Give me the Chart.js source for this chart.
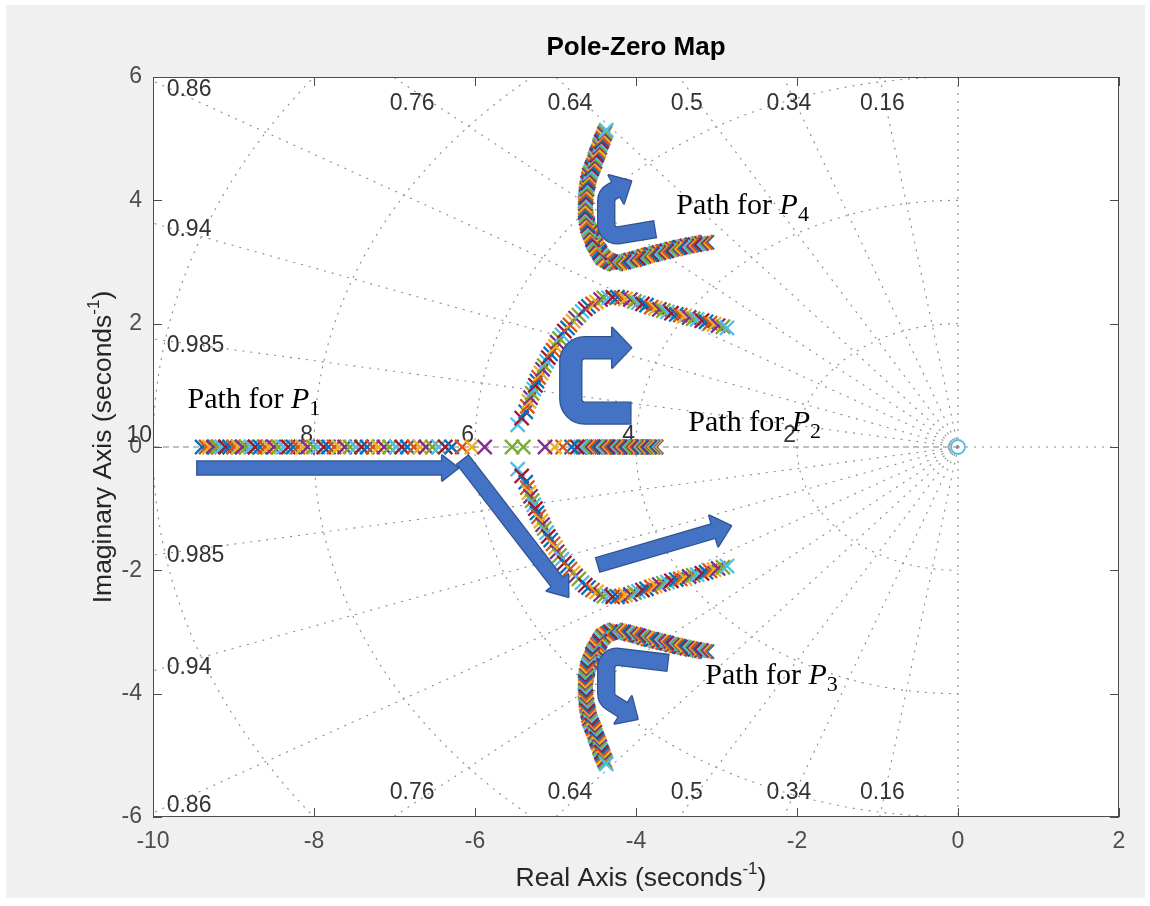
<!DOCTYPE html>
<html>
<head>
<meta charset="utf-8">
<title>Pole-Zero Map</title>
<script src="https://cdn.jsdelivr.net/npm/chart.js@4.4.1/dist/chart.umd.min.js"></script>
<style>
  html, body { margin: 0; padding: 0; background: #ffffff; }
  canvas { display: block; }
</style>
</head>
<body>
<canvas id="pz" width="1150" height="906"></canvas>
<script>
// MATLAB default colour order, one colour per gain step
const stepColors = ['#0072BD', '#D95319', '#EDB120', '#7E2F8E', '#77AC30', '#4DBEEE', '#A2142F'];

// P1 on the real axis (moves right until it meets P2)
const p1Real = [
  -9.39, -9.34, -9.30, -9.25, -9.20, -9.15, -9.10, -9.05, -9.00, -8.94,
  -8.89, -8.84, -8.78, -8.73, -8.67, -8.61, -8.56, -8.50, -8.44, -8.38,
  -8.32, -8.26, -8.20, -8.14, -8.08, -8.01, -7.95, -7.88, -7.82, -7.75,
  -7.69, -7.62, -7.55, -7.48, -7.41, -7.34, -7.27, -7.20, -7.13, -7.06,
  -6.98, -6.91, -6.84, -6.76, -6.68, -6.61, -6.53, -6.45, -6.37, -6.29,
  -6.16, -6.04, -5.88, -5.54
];

// P2 on the real axis (moves left until it meets P1)
const p2Real = [
  -3.75, -3.76, -3.77, -3.79, -3.80, -3.81, -3.83, -3.84, -3.86, -3.87,
  -3.89, -3.90, -3.92, -3.93, -3.95, -3.97, -3.98, -4.00, -4.02, -4.04,
  -4.06, -4.08, -4.09, -4.11, -4.13, -4.15, -4.18, -4.20, -4.22, -4.24,
  -4.26, -4.28, -4.31, -4.33, -4.35, -4.38, -4.40, -4.43, -4.45, -4.48,
  -4.50, -4.53, -4.55, -4.58, -4.61, -4.63, -4.66, -4.69, -4.73, -4.80,
  -4.91, -5.01, -5.13, -5.40
];

// after breakaway: upper branch taken by P2 (P1 follows the conjugate)
const breakRe = [
  -5.47, -5.42, -5.37, -5.35, -5.33, -5.31, -5.29, -5.27, -5.25, -5.23,
  -5.21, -5.18, -5.16, -5.14, -5.11, -5.09, -5.06, -5.03, -5.00, -4.98,
  -4.95, -4.92, -4.89, -4.85, -4.82, -4.78, -4.75, -4.71, -4.67, -4.63,
  -4.59, -4.54, -4.49, -4.44, -4.40, -4.34, -4.29, -4.23, -4.18, -4.13,
  -4.07, -4.02, -3.97, -3.92, -3.87, -3.81, -3.76, -3.71, -3.66, -3.61,
  -3.56, -3.50, -3.45, -3.40, -3.34, -3.29, -3.24, -3.18, -3.13, -3.08,
  -3.03, -2.98, -2.92, -2.87
];
const breakIm = [
  0.36, 0.47, 0.57, 0.66, 0.74, 0.80, 0.87, 0.94, 1.00, 1.07,
  1.13, 1.20, 1.26, 1.32, 1.39, 1.45, 1.51, 1.57, 1.63, 1.70,
  1.76, 1.82, 1.88, 1.93, 1.98, 2.04, 2.09, 2.14, 2.20, 2.24,
  2.28, 2.32, 2.35, 2.39, 2.42, 2.42, 2.43, 2.43, 2.42, 2.40,
  2.39, 2.36, 2.34, 2.32, 2.30, 2.27, 2.25, 2.23, 2.21, 2.19,
  2.17, 2.15, 2.14, 2.12, 2.10, 2.08, 2.07, 2.05, 2.03, 2.01,
  1.99, 1.97, 1.95, 1.93
];

// P4 (P3 is its conjugate)
const p4Re = [
  -3.12, -3.14, -3.17, -3.19, -3.22, -3.24, -3.27, -3.30, -3.32, -3.35,
  -3.37, -3.40, -3.42, -3.45, -3.47, -3.50, -3.52, -3.55, -3.57, -3.60,
  -3.62, -3.65, -3.67, -3.70, -3.72, -3.75, -3.77, -3.80, -3.82, -3.85,
  -3.87, -3.90, -3.92, -3.95, -3.97, -4.00, -4.02, -4.05, -4.07, -4.10,
  -4.12, -4.15, -4.17, -4.20, -4.22, -4.25, -4.27, -4.30, -4.32, -4.34,
  -4.36, -4.39, -4.41, -4.42, -4.44, -4.45, -4.46, -4.48, -4.49, -4.50,
  -4.52, -4.53, -4.54, -4.54, -4.55, -4.56, -4.57, -4.58, -4.59, -4.60,
  -4.60, -4.61, -4.61, -4.62, -4.62, -4.63, -4.63, -4.63, -4.63, -4.63,
  -4.63, -4.63, -4.63, -4.62, -4.62, -4.62, -4.62, -4.61, -4.61, -4.60,
  -4.60, -4.59, -4.59, -4.58, -4.58, -4.57, -4.56, -4.55, -4.54, -4.53,
  -4.52, -4.51, -4.51, -4.50, -4.49, -4.48, -4.47, -4.46, -4.45, -4.45,
  -4.44, -4.43, -4.42, -4.41, -4.40, -4.39, -4.38, -4.37
];
const p4Im = [
  3.32, 3.32, 3.31, 3.30, 3.30, 3.29, 3.28, 3.28, 3.27, 3.26,
  3.26, 3.25, 3.24, 3.24, 3.23, 3.22, 3.21, 3.21, 3.20, 3.19,
  3.18, 3.17, 3.17, 3.16, 3.15, 3.14, 3.13, 3.12, 3.12, 3.11,
  3.10, 3.09, 3.08, 3.07, 3.06, 3.05, 3.04, 3.04, 3.03, 3.02,
  3.01, 3.00, 3.00, 2.99, 2.98, 2.97, 2.97, 2.99, 3.00, 3.02,
  3.03, 3.05, 3.07, 3.09, 3.12, 3.15, 3.18, 3.21, 3.24, 3.27,
  3.30, 3.33, 3.36, 3.39, 3.42, 3.45, 3.48, 3.51, 3.54, 3.58,
  3.61, 3.64, 3.68, 3.71, 3.74, 3.78, 3.81, 3.84, 3.88, 3.91,
  3.95, 3.98, 4.01, 4.05, 4.08, 4.11, 4.15, 4.18, 4.21, 4.25,
  4.28, 4.31, 4.35, 4.38, 4.41, 4.44, 4.47, 4.51, 4.54, 4.57,
  4.60, 4.63, 4.67, 4.70, 4.73, 4.76, 4.79, 4.82, 4.86, 4.89,
  4.92, 4.95, 4.98, 5.01, 5.05, 5.08, 5.11, 5.14
];

// the zero at the origin
const zeroRe = [0];
const zeroIm = [0];

// s-plane grid values
const dampingRatios = [0.16, 0.34, 0.5, 0.64, 0.76, 0.86, 0.94, 0.985];
const naturalFreqs = [2, 4, 6, 8, 10];

// axis ticks
const xTicks = [-10, -8, -6, -4, -2, 0, 2];
const yTicks = [-6, -4, -2, 0, 2, 4, 6];

// ---------------------------------------------------------------------------
const SANS = '"Liberation Sans", Arial, Helvetica, sans-serif';
const SERIF = '"Liberation Serif", "Times New Roman", serif';

// where each damping-ratio label sits: [ratio, re, im, align]
const dampLabelSpots = [
  [0.86, -9.83, 5.79, 'left'], [0.94, -9.83, 3.53, 'left'], [0.985, -9.83, 1.65, 'left'],
  [0.985, -9.83, -1.77, 'left'], [0.94, -9.83, -3.58, 'left'], [0.86, -9.83, -5.82, 'left'],
  [0.76, -6.78, 5.56, 'center'], [0.64, -4.82, 5.56, 'center'], [0.5, -3.37, 5.56, 'center'],
  [0.34, -2.10, 5.56, 'center'], [0.16, -0.94, 5.56, 'center'],
  [0.76, -6.78, -5.61, 'center'], [0.64, -4.82, -5.61, 'center'], [0.5, -3.37, -5.61, 'center'],
  [0.34, -2.10, -5.61, 'center'], [0.16, -0.94, -5.61, 'center']
];

// block arrows: centre line in axis units, body width / head width / head length in px
const arrowShapes = [
  { pts: [[-9.45, -0.34], [-6.21, -0.34]], w: 13, hw: 25, hl: 16, r: 0 },
  { pts: [[-6.15, -0.21], [-4.84, -2.43]], w: 14, hw: 27, hl: 18, r: 0 },
  { pts: [[-4.47, -1.91], [-2.82, -1.28]], w: 14, hw: 32, hl: 18, r: 0 },
  { pts: [[-4.07, 0.55], [-4.81, 0.55], [-4.81, 1.61], [-4.06, 1.61]], w: 21, hw: 40, hl: 19, r: 14 },
  { pts: [[-3.77, 3.53], [-4.37, 3.40], [-4.37, 4.09], [-4.06, 4.31]], w: 16, hw: 32, hl: 17, r: 11 },
  { pts: [[-3.61, -3.50], [-4.37, -3.38], [-4.37, -4.09], [-3.98, -4.41]], w: 16, hw: 32, hl: 17, r: 11 }
];

// "Path for P_k" captions: [k, re, im of baseline start]
const pathCaptions = [
  ['1', -9.57, 0.63],
  ['2', -3.35, 0.26],
  ['4', -3.50, 3.78],
  ['3', -3.14, -3.84]
];

// ---------------------------------------------------------------------------
const pts = (re, im) => re.map((v, i) => ({ x: v, y: im[i] }));
const onAxis = re => re.map(v => ({ x: v, y: 0 }));
const conj = arr => arr.map(p => ({ x: p.x, y: -p.y }));

const upper = pts(breakRe, breakIm);
const p2Path = onAxis(p2Real).concat(upper);
const p1Path = onAxis(p1Real).concat(conj(upper));
const p4Path = pts(p4Re, p4Im);
const p3Path = conj(p4Path);

const poleStyle = {
  showLine: false,
  pointStyle: 'crossRot',
  pointRadius: 10,
  pointHoverRadius: 10,
  pointBorderWidth: 2.3,
  pointBorderColor: c => stepColors[c.dataIndex % stepColors.length],
  pointBackgroundColor: c => stepColors[c.dataIndex % stepColors.length]
};

const gridPlugin = {
  id: 'sgrid',
  beforeDraw(chart) {
    const { ctx, chartArea: a } = chart;
    ctx.save();
    ctx.fillStyle = '#ffffff';
    ctx.fillRect(0, 0, chart.width, chart.height);
    ctx.fillStyle = '#f0f0f0';
    ctx.fillRect(6, 5, 1139, 893);
    ctx.fillStyle = '#ffffff';
    ctx.fillRect(a.left, a.top, a.right - a.left, a.bottom - a.top);
    ctx.restore();
  },
  beforeDatasetsDraw(chart) {
    const { ctx, chartArea: a, scales: { x, y } } = chart;
    const X = v => x.getPixelForValue(v), Y = v => y.getPixelForValue(v);
    ctx.save();
    ctx.beginPath();
    ctx.rect(a.left, a.top, a.right - a.left, a.bottom - a.top);
    ctx.clip();
    ctx.strokeStyle = '#8c8c8c';
    ctx.lineWidth = 1.1;
    ctx.setLineDash([2, 6]);
    // constant damping rays
    dampingRatios.forEach(z => {
      const s = Math.sqrt(1 - z * z);
      [1, -1].forEach(sg => {
        ctx.beginPath();
        ctx.moveTo(X(0), Y(0));
        ctx.lineTo(X(-z * 30), Y(sg * s * 30));
        ctx.stroke();
      });
    });
    // constant natural frequency arcs (left half plane)
    naturalFreqs.forEach(w => {
      ctx.beginPath();
      for (let d = 90; d <= 270; d += 1) {
        const t = d * Math.PI / 180;
        const px = X(w * Math.cos(t)), py = Y(w * Math.sin(t));
        if (d === 90) ctx.moveTo(px, py); else ctx.lineTo(px, py);
      }
      ctx.stroke();
    });
    // imaginary axis and positive real axis
    ctx.beginPath();
    ctx.moveTo(X(0), a.top); ctx.lineTo(X(0), a.bottom);
    ctx.moveTo(X(0), Y(0)); ctx.lineTo(a.right, Y(0));
    ctx.stroke();
    // negative real axis
    ctx.setLineDash([6, 4]);
    ctx.strokeStyle = '#808080';
    ctx.beginPath();
    ctx.moveTo(a.left, Y(0)); ctx.lineTo(X(0), Y(0));
    ctx.stroke();
    ctx.restore();

    // grid labels
    ctx.save();
    ctx.fillStyle = '#333333';
    ctx.font = `23px ${SANS}`;
    ctx.textBaseline = 'middle';
    dampLabelSpots.forEach(([z, re, im, al]) => {
      ctx.textAlign = al;
      ctx.fillText(String(z), X(re), Y(im));
    });
    ctx.textAlign = 'right';
    ctx.textBaseline = 'alphabetic';
    naturalFreqs.forEach(w => {
      ctx.fillText(String(w), X(-w) - 1, Y(0) - 5);
    });
    ctx.restore();
  }
};

function drawBlockArrow(ctx, p, w, hw, hl, r) {
  const n = p.length;
  const tip = p[n - 1], prev = p[n - 2];
  const L = Math.hypot(tip[0] - prev[0], tip[1] - prev[1]);
  const ux = (tip[0] - prev[0]) / L, uy = (tip[1] - prev[1]) / L;
  const base = [tip[0] - ux * hl, tip[1] - uy * hl];
  const bodyEnd = [base[0] + ux * 2, base[1] + uy * 2];
  const body = p.slice(0, n - 1).concat([bodyEnd]);
  const s0 = body[0], s1 = body[1];
  const L0 = Math.hypot(s1[0] - s0[0], s1[1] - s0[1]);
  const tail = [s0[0] - (s1[0] - s0[0]) / L0 * 1.2, s0[1] - (s1[1] - s0[1]) / L0 * 1.2];

  const bodyPath = (start) => {
    ctx.beginPath();
    ctx.moveTo(start[0], start[1]);
    for (let i = 1; i < body.length - 1; i++) {
      if (r > 0) ctx.arcTo(body[i][0], body[i][1], body[i + 1][0], body[i + 1][1], r);
      else ctx.lineTo(body[i][0], body[i][1]);
    }
    ctx.lineTo(bodyEnd[0], bodyEnd[1]);
  };
  const headPath = () => {
    ctx.beginPath();
    ctx.moveTo(tip[0], tip[1]);
    ctx.lineTo(base[0] - uy * hw / 2, base[1] + ux * hw / 2);
    ctx.lineTo(base[0] + uy * hw / 2, base[1] - ux * hw / 2);
    ctx.closePath();
  };
  ctx.save();
  ctx.lineJoin = 'round';
  ctx.lineCap = 'butt';
  // outlines
  headPath();
  ctx.strokeStyle = '#2F528F';
  ctx.lineWidth = 2.4;
  ctx.stroke();
  bodyPath(tail);
  ctx.lineWidth = w + 2.4;
  ctx.stroke();
  // fills
  bodyPath(s0);
  ctx.strokeStyle = '#4472C4';
  ctx.lineWidth = w;
  ctx.stroke();
  headPath();
  ctx.fillStyle = '#4472C4';
  ctx.fill();
  ctx.restore();
}

const overlayPlugin = {
  id: 'overlay',
  afterDatasetsDraw(chart) {
    const { ctx, scales: { x, y } } = chart;
    const X = v => x.getPixelForValue(v), Y = v => y.getPixelForValue(v);
    arrowShapes.forEach(a => {
      drawBlockArrow(ctx, a.pts.map(q => [X(q[0]), Y(q[1])]), a.w, a.hw, a.hl, a.r);
    });
    ctx.save();
    ctx.fillStyle = '#000000';
    ctx.textBaseline = 'alphabetic';
    ctx.textAlign = 'left';
    pathCaptions.forEach(([k, re, im]) => {
      let px = X(re);
      const py = Y(im);
      ctx.font = `30px ${SERIF}`;
      ctx.fillText('Path for ', px, py);
      px += ctx.measureText('Path for ').width;
      ctx.font = `italic 30px ${SERIF}`;
      ctx.fillText('P', px, py);
      px += ctx.measureText('P').width;
      ctx.font = `22px ${SERIF}`;
      ctx.fillText(k, px, py + 7);
    });
    ctx.restore();
  },
  afterDraw(chart) {
    const { ctx, chartArea: a, scales: { x, y } } = chart;
    ctx.save();
    // axes box and inward ticks
    ctx.strokeStyle = '#4d4d4d';
    ctx.lineWidth = 1;
    ctx.strokeRect(a.left + 0.5, a.top + 0.5, a.right - a.left - 1, a.bottom - a.top - 1);
    ctx.beginPath();
    xTicks.forEach(v => {
      const px = Math.round(x.getPixelForValue(v)) + 0.5;
      ctx.moveTo(px, a.bottom); ctx.lineTo(px, a.bottom - 9);
      ctx.moveTo(px, a.top); ctx.lineTo(px, a.top + 9);
    });
    yTicks.forEach(v => {
      const py = Math.round(y.getPixelForValue(v)) + 0.5;
      ctx.moveTo(a.left, py); ctx.lineTo(a.left + 9, py);
      ctx.moveTo(a.right, py); ctx.lineTo(a.right - 9, py);
    });
    ctx.stroke();

    // title
    ctx.fillStyle = '#000000';
    ctx.font = `bold 26px ${SANS}`;
    ctx.textAlign = 'center';
    ctx.textBaseline = 'middle';
    ctx.fillText('Pole-Zero Map', (a.left + a.right) / 2, 48);

    // axis titles with superscript units
    const titled = (main, sup, tail, cx, cy, rot) => {
      ctx.save();
      ctx.translate(cx, cy);
      ctx.rotate(rot);
      ctx.fillStyle = '#262626';
      ctx.textAlign = 'left';
      ctx.textBaseline = 'alphabetic';
      const f1 = `26.5px ${SANS}`, f2 = `17px ${SANS}`;
      ctx.font = f1;
      const w1 = ctx.measureText(main).width, w3 = ctx.measureText(tail).width;
      ctx.font = f2;
      const w2 = ctx.measureText(sup).width;
      const x0 = -(w1 + w2 + w3) / 2;
      ctx.font = f1; ctx.fillText(main, x0, 9);
      ctx.font = f2; ctx.fillText(sup, x0 + w1, -3);
      ctx.font = f1; ctx.fillText(tail, x0 + w1 + w2, 9);
      ctx.restore();
    };
    titled('Real Axis (seconds', '-1', ')', (a.left + a.right) / 2 + 5, 877, 0);
    titled('Imaginary Axis (seconds', '-1', ')', 102, (a.top + a.bottom) / 2, -Math.PI / 2);
    ctx.restore();
  }
};

new Chart(document.getElementById('pz'), {
  type: 'scatter',
  data: {
    datasets: [
      Object.assign({ label: 'P1', data: p1Path }, poleStyle),
      Object.assign({ label: 'P2', data: p2Path }, poleStyle),
      Object.assign({ label: 'P3', data: p3Path }, poleStyle),
      Object.assign({ label: 'P4', data: p4Path }, poleStyle),
      {
        label: 'Zero',
        data: pts(zeroRe, zeroIm),
        showLine: false,
        pointStyle: 'circle',
        pointRadius: 7,
        pointHoverRadius: 7,
        pointBorderWidth: 1.8,
        pointBorderColor: '#4DBEEE',
        pointBackgroundColor: 'rgba(0,0,0,0)'
      }
    ]
  },
  options: {
    responsive: false,
    devicePixelRatio: 1,
    animation: false,
    events: [],
    layout: { padding: { left: 0, right: 31, top: 77, bottom: 0 } },
    plugins: {
      legend: { display: false },
      tooltip: { enabled: false },
      title: { display: false }
    },
    scales: {
      x: {
        type: 'linear',
        min: -10,
        max: 2,
        afterBuildTicks: s => { s.ticks = xTicks.map(v => ({ value: v })); },
        afterFit: s => { s.height = 89; },
        grid: { display: false, drawTicks: false },
        border: { display: false },
        ticks: { color: '#4d4d4d', padding: 11, font: { family: SANS, size: 23 }, maxRotation: 0 }
      },
      y: {
        type: 'linear',
        min: -6,
        max: 6,
        afterBuildTicks: s => { s.ticks = yTicks.map(v => ({ value: v })); },
        afterFit: s => { s.width = 153; },
        grid: { display: false, drawTicks: false },
        border: { display: false },
        ticks: { color: '#4d4d4d', padding: 11, font: { family: SANS, size: 23 } }
      }
    }
  },
  plugins: [gridPlugin, overlayPlugin]
});
</script>
</body>
</html>
